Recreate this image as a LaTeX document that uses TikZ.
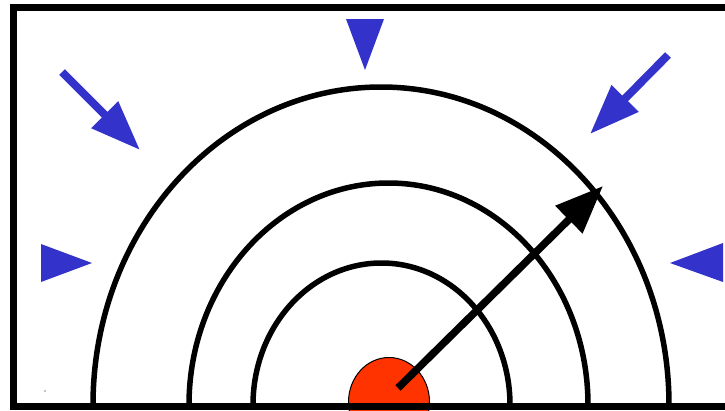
\documentclass[tikz,border=0pt]{standalone}
\usetikzlibrary{arrows.meta}
\definecolor{pushblue}{RGB}{51,51,204}
\definecolor{corered}{RGB}{255,51,0}

\begin{document}
\begin{tikzpicture}[
  x=1pt, y=-1pt,
  wave/.style={line width=5.5pt, black},
  push/.style={-{Triangle[length=50pt, width=36pt]}, line width=8pt, pushblue},
  wedge/.style={fill=pushblue},
  radius/.style={-{Triangle[length=48pt, width=37pt]}, line width=7.5pt, black}
]
\useasboundingbox (0,0) rectangle (725,410);
\clip (0,0) rectangle (725,410);

% wave fronts
\draw[wave] (669,405) arc[start angle=0, end angle=180, x radius=288pt, y radius=318pt];
\draw[wave] (588,405) arc[start angle=0, end angle=180, x radius=199.5pt, y radius=222pt];
\draw[wave] (510,405) arc[start angle=0, end angle=180, x radius=128.5pt, y radius=142pt];

% source
\draw[fill=corered, line width=1pt] (389,402) ellipse[x radius=40.5pt, y radius=44.5pt];

% frame
\draw[line width=7pt, miter limit=10] (760,7) -- (13,7) -- (13,406.5) -- (760,406.5);
\fill (45,391) circle (0.6);

% radius arrow
\coordinate (src) at (398,388);
\coordinate (front) at (603,186);
\draw[radius] (src) -- (front);

% incoming pressure
\coordinate (ulfrom) at (62,72);
\coordinate (ulto) at (140,150);
\coordinate (urfrom) at (668,55);
\coordinate (urto) at (590,134);
\draw[push] (ulfrom) -- (ulto);
\draw[push] (urfrom) -- (urto);
\fill[wedge] (346,19) -- (384,19) -- (365,70) -- cycle;
\fill[wedge] (41,244) -- (41,282) -- (92,263) -- cycle;
\fill[wedge] (723,243) -- (723,282) -- (670,263) -- cycle;
\end{tikzpicture}
\end{document}
